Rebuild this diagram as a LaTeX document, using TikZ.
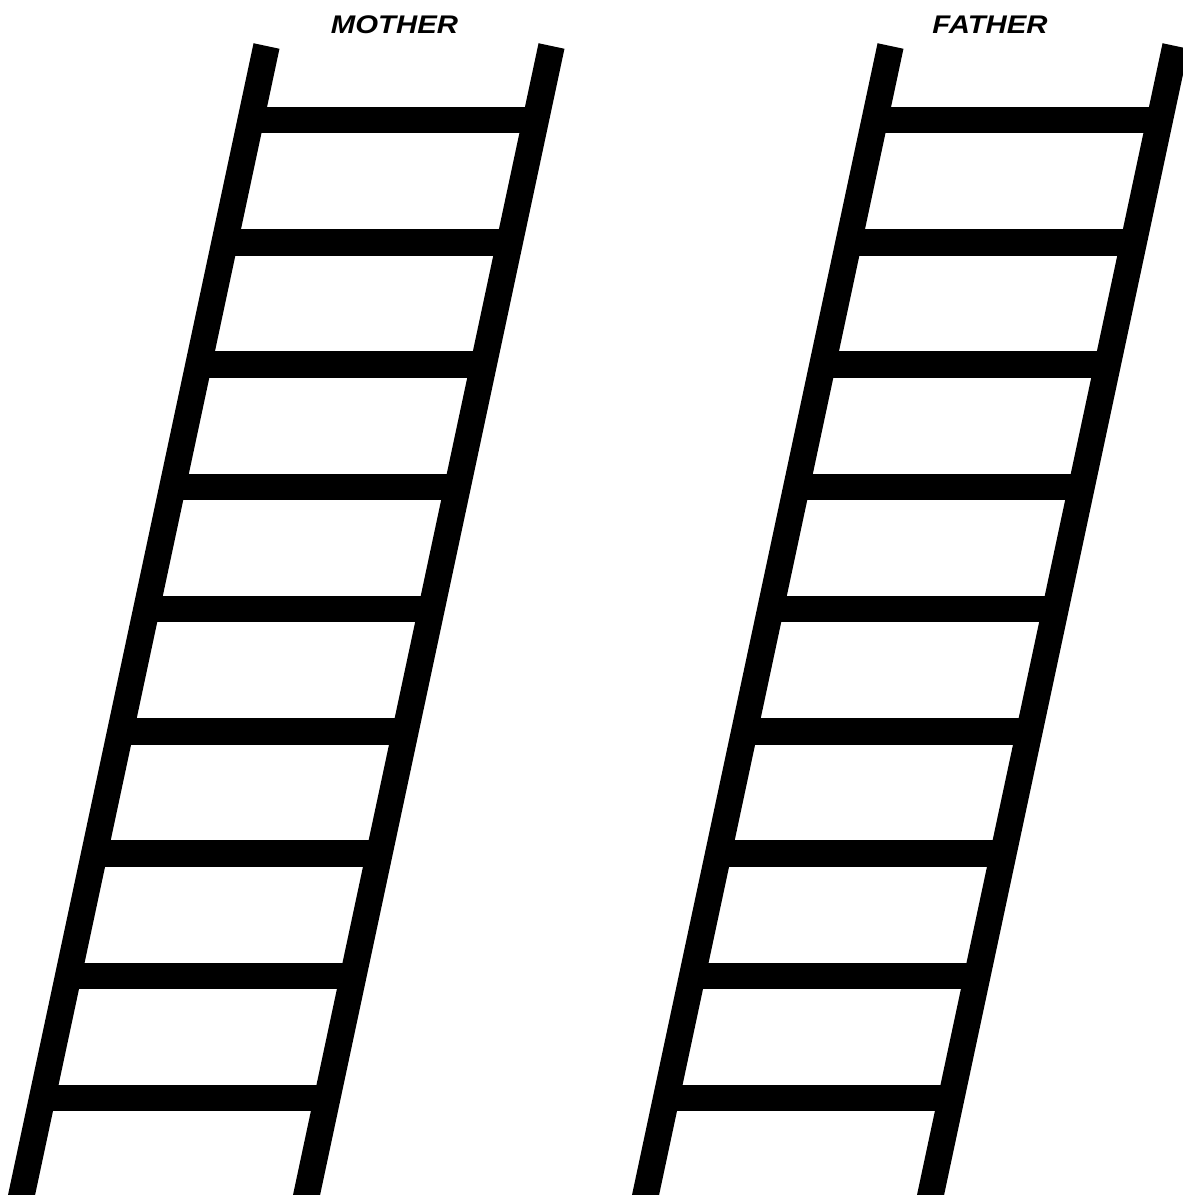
\documentclass[tikz,border=0pt]{standalone}
\usepackage{fontspec}
\setmainfont{Liberation Sans}
\begin{document}
\begin{tikzpicture}[x=1pt,y=-1pt,
  rail/.style={line width=26.5pt, line cap=butt, black},
  rung/.style={line width=26.5pt, line cap=butt, black},
  lbl/.style={font=\fontsize{25.5}{30}\selectfont\bfseries\itshape, anchor=base, inner sep=0pt}]
\useasboundingbox (0,0) rectangle (1183,1195);
\begin{scope}
\clip (0,0) rectangle (1183,1195);
\foreach \ox in {0,624} {
  \draw[rail] (266.5+\ox,46) -- ({266.5+\ox-0.2132*1204},1250);
  \draw[rail] (551.5+\ox,46) -- ({551.5+\ox-0.2132*1204},1250);
  \foreach \k in {0,...,8} {
    \pgfmathsetmacro\yy{120+122.25*\k}
    \pgfmathsetmacro\dx{0.2132*(\yy-46)}
    \draw[rung] ({266.5+\ox-\dx},\yy) -- ({551.5+\ox-\dx},\yy);
  }
}
\end{scope}
\node[lbl] (mother) at (394.5,33) {\scalebox{1.15}[1]{MOTHER}};
\node[lbl] (father) at (990,33) {\scalebox{1.15}[1]{FATHER}};
\end{tikzpicture}
\end{document}
